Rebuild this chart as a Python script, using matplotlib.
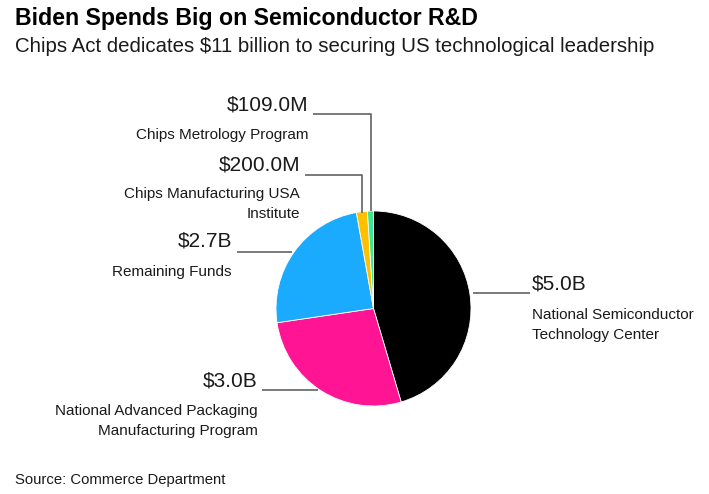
import matplotlib.pyplot as plt

# data
names = ['National Semiconductor\nTechnology Center',
         'National Advanced Packaging\nManufacturing Program',
         'Remaining Funds',
         'Chips Manufacturing USA\nInstitute',
         'Chips Metrology Program']
amounts = [5.0, 3.0, 2.7, 0.2, 0.109]   # $ billions
value_labels = ['$5.0B', '$3.0B', '$2.7B', '$200.0M', '$109.0M']
colors = ['#000000', '#ff1493', '#1aabff', '#ffc000', '#3ee68f']

W, H = 709, 494
plt.rcParams['font.family'] = ['Liberation Sans', 'DejaVu Sans']

fig = plt.figure(figsize=(W / 100, H / 100), dpi=100)
ax = fig.add_axes([0, 0, 1, 1])
ax.set_xlim(0, W)
ax.set_ylim(0, H)
ax.set_aspect('equal')
ax.axis('off')

def Y(py):
    return H - py

cx, cy, r = 373.5, 308.5, 97.5
ax.pie(amounts, colors=colors, center=(cx, Y(cy)), radius=r, startangle=90,
       counterclock=False, wedgeprops=dict(edgecolor='white', linewidth=0.6))
ax.set_xlim(0, W)
ax.set_ylim(0, H)

txt = '#1a1a1a'
line = '#555555'

# leader lines (pixel positions) and label anchors
# (line points, value text x, value y, name y, alignment)
layout = [
    ([(473, 293), (530, 293)], 532, 284, 314, 'left'),
    ([(262, 390), (318, 390)], 258, 381, 410, 'right'),
    ([(237, 252), (292, 252)], 232, 241, 271, 'right'),
    ([(305, 175), (362, 175), (362, 213)], 300, 165, 193, 'right'),
    ([(313, 114), (371, 114), (371, 211)], 308, 105, 134, 'right'),
]
for (pts, tx, vy, ny, ha), val, name in zip(layout, value_labels, names):
    xs = [p[0] for p in pts]
    ys = [Y(p[1]) for p in pts]
    ax.plot(xs, ys, color=line, lw=1.1, solid_capstyle='butt')
    ax.text(tx, Y(vy), val, fontsize=15, color=txt, ha=ha, va='center')
    ax.text(tx, Y(ny - 6), name, fontsize=11, color=txt, ha=ha, va='top',
            linespacing=1.55, multialignment=ha)

fig.text(15 / W, 1 - 18 / H, 'Biden Spends Big on Semiconductor R&D',
         fontsize=16.7, fontweight='bold', color='black', va='center')
fig.text(15 / W, 1 - 47 / H,
         'Chips Act dedicates $11 billion to securing US technological leadership',
         fontsize=14.7, color=txt, va='center')
fig.text(15 / W, 1 - 480 / H, 'Source: Commerce Department',
         fontsize=10.7, color=txt, va='center')

fig.savefig('out.png', dpi=100)
